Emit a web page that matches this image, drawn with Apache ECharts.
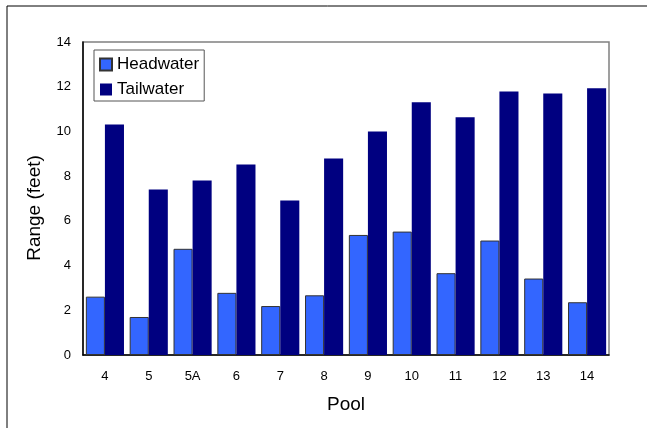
<!DOCTYPE html>
<html>
<head>
<meta charset="utf-8">
<script src="https://cdn.jsdelivr.net/npm/echarts@6/dist/echarts.min.js"></script>
<style>
  html, body { margin: 0; padding: 0; background: #fff; }
  #chart { width: 647px; height: 428px; }
</style>
</head>
<body>
<div id="chart"></div>
<script>
// Pool names along the river
const pools = ['4', '5', '5A', '6', '7', '8', '9', '10', '11', '12', '13', '14'];
// Water level range in feet at each pool
const headwater = [2.61, 1.70, 4.75, 2.78, 2.19, 2.67, 5.37, 5.52, 3.66, 5.12, 3.42, 2.36];
const tailwater = [10.31, 7.40, 7.81, 8.52, 6.91, 8.79, 10.00, 11.30, 10.63, 11.79, 11.70, 11.93];
const yTicks = { min: 0, max: 14, interval: 2 };

const font = 'Liberation Sans, Arial, sans-serif';
const chart = echarts.init(document.getElementById('chart'), null, { renderer: 'canvas' });

chart.setOption({
  backgroundColor: '#ffffff',
  animation: false,
  textStyle: { fontFamily: font, color: '#000' },
  grid: {
    left: 83, right: 38, top: 42, bottom: 73,
    show: true, borderColor: '#808080', borderWidth: 1.5, backgroundColor: 'transparent'
  },
  legend: {
    orient: 'vertical',
    left: 94, top: 50,
    itemWidth: 12, itemHeight: 12, itemGap: 8,
    padding: [6, 5, 3, 5],
    borderColor: '#555', borderWidth: 1,
    icon: 'rect',
    textStyle: { fontFamily: font, fontSize: 17, color: '#000' },
    data: ['Headwater', 'Tailwater']
  },
  xAxis: {
    type: 'category',
    data: pools,
    name: 'Pool',
    nameLocation: 'middle',
    nameGap: 40,
    nameTextStyle: { fontFamily: font, fontSize: 19, color: '#000' },
    axisLine: { show: true, lineStyle: { color: '#000', width: 1.5 } },
    axisTick: { show: false },
    axisLabel: { margin: 15, fontFamily: font, fontSize: 13, color: '#000' }
  },
  yAxis: {
    type: 'value',
    min: yTicks.min, max: yTicks.max, interval: yTicks.interval,
    axisLine: { show: true, lineStyle: { color: '#000', width: 1.5 } },
    axisTick: { show: false },
    splitLine: { show: false },
    axisLabel: { margin: 12, fontFamily: font, fontSize: 13, color: '#000' }
  },
  graphic: [
    {
      type: 'rect',
      shape: { x: 7, y: 6, width: 800, height: 600 },
      style: { fill: 'none', stroke: '#000', lineWidth: 1 },
      silent: true
    },
    {
      type: 'text',
      x: 35, y: 208,
      rotation: Math.PI / 2,
      style: {
        text: 'Range (feet)',
        fontFamily: font, fontSize: 19, fill: '#000',
        textAlign: 'center', textVerticalAlign: 'middle'
      }
    }
  ],
  series: [
    {
      name: 'Headwater',
      type: 'bar',
      data: headwater,
      barGap: '0%',
      barCategoryGap: '13%',
      itemStyle: { color: '#3366FF', borderColor: '#333333', borderWidth: 1 }
    },
    {
      name: 'Tailwater',
      type: 'bar',
      data: tailwater,
      barGap: '0%',
      barCategoryGap: '13%',
      itemStyle: { color: '#000080' }
    }
  ]
});
</script>
</body>
</html>
